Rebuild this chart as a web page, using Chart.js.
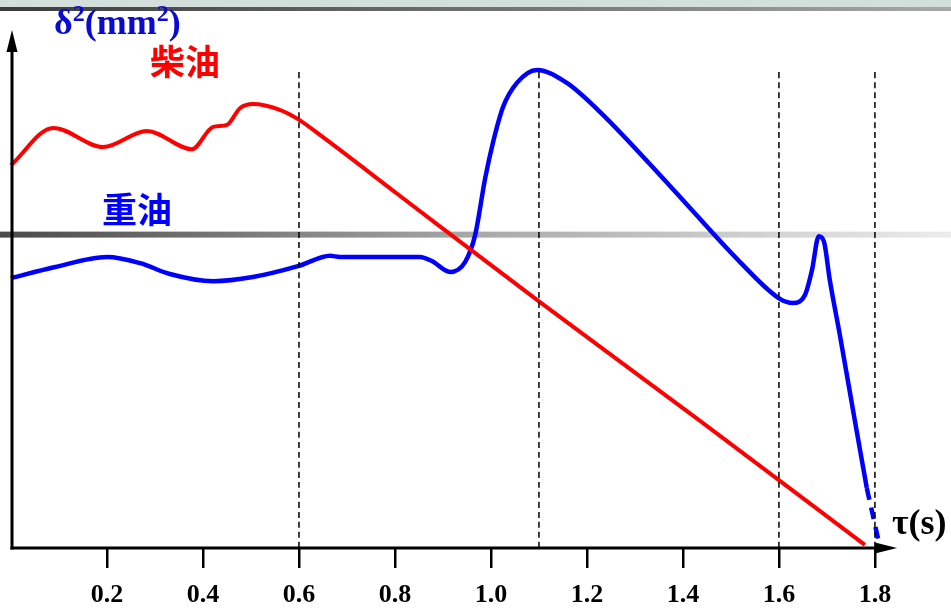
<!DOCTYPE html>
<html>
<head>
<meta charset="utf-8">
<script src="https://cdn.jsdelivr.net/npm/chart.js@4"></script>
<style>
  body { margin: 0; background: #fff; }
  #wrap { width: 951px; height: 613px; position: relative; }
</style>
</head>
<body>
<div id="wrap"><canvas id="chart"></canvas></div>
<script>
// time axis (s)
const xTicks = [0.2, 0.4, 0.6, 0.8, 1.0, 1.2, 1.4, 1.6, 1.8];
const xMax = 1.846;
const yMax = 100;

// 柴油 (diesel) curve
const redX = [0.0, 0.088, 0.192, 0.283, 0.377, 0.421, 0.45, 0.477, 0.504, 0.56, 0.598, 0.65, 0.81, 1.1, 1.435, 1.779];
const redY = [73.9, 81.1, 77.4, 80.5, 77.0, 81.3, 81.7, 84.9, 85.7, 84.6, 82.8, 79.3, 68.0, 47.6, 24.6, 0.6];

// 重油 (heavy oil) curve
const blueX = [0.0, 0.09, 0.2, 0.269, 0.331, 0.421, 0.504, 0.598, 0.665, 0.685, 0.852, 0.877, 0.915, 0.946,
               0.967, 0.988, 1.004, 1.025, 1.054, 1.096, 1.158, 1.227, 1.373, 1.519, 1.602, 1.629, 1.654,
               1.669, 1.683, 1.694, 1.706, 1.727, 1.758, 1.783];
const blueY = [52.1, 54.2, 56.2, 55.0, 52.9, 51.5, 52.3, 54.4, 56.4, 56.2, 56.2, 55.4, 53.3, 55.2,
               60.4, 71.4, 78.2, 85.1, 89.8, 92.3, 89.8, 84.2, 69.9, 55.2, 48.1, 47.3, 48.8,
               53.7, 60.2, 59.1, 51.7, 41.1, 24.7, 11.6];
// dashed end of the heavy oil curve
const blueTailX = [1.783, 1.808];
const blueTailY = [11.6, 1.2];

// vertical dashed markers
const markX = [0.6, 1.1, 1.6, 1.8];
const markTop = 92.3;

function pts(xs, ys) {
    return xs.map((x, i) => ({ x: x, y: ys[i] }));
}

const datasets = markX.map(m => ({
    data: [{ x: m, y: 0 }, { x: m, y: markTop }],
    borderColor: '#000',
    borderWidth: 1.5,
    borderDash: [6, 4],
    pointRadius: 0
}));
datasets.push({
    data: pts(redX, redY),
    borderColor: '#ff0000',
    borderWidth: 4,
    pointRadius: 0,
    cubicInterpolationMode: 'monotone'
});
datasets.push({
    data: pts(blueX, blueY),
    borderColor: '#0000ff',
    borderWidth: 4.5,
    pointRadius: 0,
    cubicInterpolationMode: 'monotone'
});
datasets.push({
    data: pts(blueTailX, blueTailY),
    borderColor: '#0000ff',
    borderWidth: 4.5,
    borderDash: [12, 8],
    pointRadius: 0
});

// draws a run of [text, fontSize, yShift] pieces side by side
function drawRun(c, parts, x, y) {
    parts.forEach(p => {
        c.font = 'bold ' + p[1] + 'px "Liberation Serif"';
        c.fillText(p[0], x, y + p[2]);
        x += c.measureText(p[0]).width;
    });
}

const decor = {
    id: 'decor',
    beforeDatasetsDraw(chart) {
        const c = chart.ctx;
        const w = chart.width;
        c.save();
        // scanner streak across the top
        c.fillStyle = '#d3dfdb';
        c.fillRect(0, 0, w, 7);
        let g = c.createLinearGradient(0, 0, w, 0);
        g.addColorStop(0, '#3c3c3c');
        g.addColorStop(0.6, '#7a7a7a');
        g.addColorStop(1, '#a8a8a8');
        c.fillStyle = g;
        c.fillRect(0, 7, w, 4);
        // gray band across the middle
        const by = chart.scales.y.getPixelForValue(60.5);
        g = c.createLinearGradient(0, 0, w, 0);
        g.addColorStop(0, '#4a4a4a');
        g.addColorStop(0.5, '#a8a8a8');
        g.addColorStop(1, '#ececec');
        c.fillStyle = g;
        c.fillRect(0, by - 3, w, 6);
        c.restore();
    },
    afterDatasetsDraw(chart) {
        const c = chart.ctx;
        const a = chart.chartArea;
        c.save();
        c.strokeStyle = '#000';
        c.fillStyle = '#000';
        c.lineWidth = 3;
        // y axis
        c.beginPath();
        c.moveTo(a.left + 1, a.bottom + 1.5);
        c.lineTo(a.left + 1, a.top + 10);
        c.stroke();
        c.beginPath();
        c.moveTo(a.left + 1, a.top);
        c.lineTo(a.left - 4.5, a.top + 22);
        c.lineTo(a.left + 6.5, a.top + 22);
        c.closePath();
        c.fill();
        // x axis
        c.beginPath();
        c.moveTo(a.left - 0.5, a.bottom);
        c.lineTo(a.right - 10, a.bottom);
        c.stroke();
        c.beginPath();
        c.moveTo(a.right, a.bottom);
        c.lineTo(a.right - 22, a.bottom - 5.5);
        c.lineTo(a.right - 22, a.bottom + 5.5);
        c.closePath();
        c.fill();
        c.restore();
    },
    afterDraw(chart) {
        const c = chart.ctx;
        c.save();
        c.textBaseline = 'alphabetic';
        c.textAlign = 'left';
        c.fillStyle = '#0a0ad0';
        drawRun(c, [['δ', 36, 0], ['2', 24, -13], ['(mm', 36, 0], ['2', 24, -13], [')', 36, 0]], 54, 34);
        c.fillStyle = '#ff0000';
        c.font = 'bold 35px "Noto Sans CJK SC"';
        c.textBaseline = 'middle';
        c.fillText('柴油', 150, 62);
        c.fillStyle = '#0000ff';
        c.font = 'bold 35px "Noto Sans CJK SC"';
        c.fillText('重油', 102, 210);
        c.fillStyle = '#000';
        c.font = 'bold 36px "Liberation Serif"';
        c.textBaseline = 'alphabetic';
        c.fillText('τ(s)', 892, 534);
        c.restore();
    }
};

new Chart(document.getElementById('chart'), {
    type: 'line',
    data: { datasets: datasets },
    options: {
        responsive: true,
        maintainAspectRatio: false,
        animation: false,
        layout: { padding: { left: 11, right: 54, top: 30, bottom: 0 } },
        plugins: { legend: { display: false }, tooltip: { enabled: false } },
        elements: { line: { tension: 0.4 } },
        datasets: { line: { clip: false } },
        scales: {
            x: {
                type: 'linear',
                min: 0,
                max: xMax,
                afterBuildTicks: axis => { axis.ticks = xTicks.map(v => ({ value: v })); },
                afterFit: axis => { axis.height = 65; },
                grid: {
                    drawOnChartArea: false,
                    drawTicks: true,
                    tickLength: 20,
                    tickColor: '#000',
                    lineWidth: 2.5
                },
                border: { display: false },
                ticks: {
                    color: '#000',
                    padding: 12,
                    maxRotation: 0,
                    autoSkip: false,
                    font: { family: '"Liberation Serif"', size: 26, weight: 'bold' },
                    callback: v => Number(v).toFixed(1)
                }
            },
            y: {
                display: false,
                min: 0,
                max: yMax
            }
        }
    },
    plugins: [decor]
});
</script>
</body>
</html>
